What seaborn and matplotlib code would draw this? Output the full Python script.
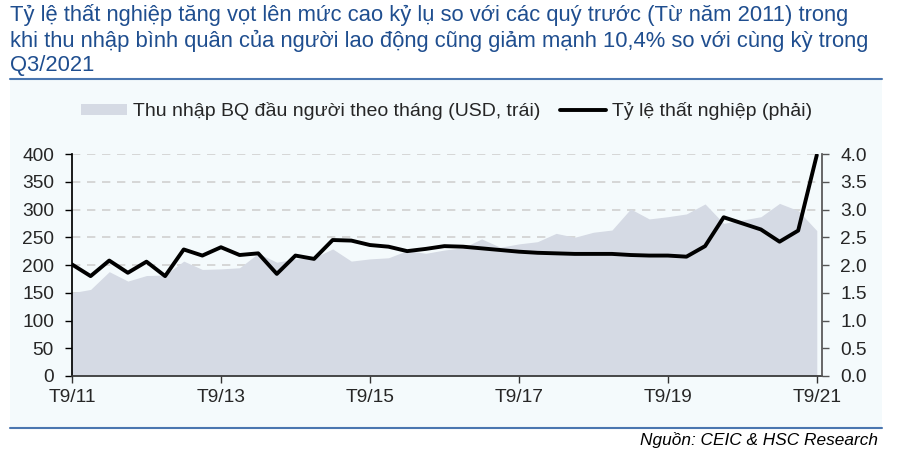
import numpy as np
import pandas as pd
import matplotlib
matplotlib.use("Agg")
import matplotlib.pyplot as plt
import seaborn as sns
from matplotlib.patches import Patch, Rectangle
from matplotlib.lines import Line2D

# ---- data ----
quarter_index = list(range(41))  # Q3/2011 .. Q3/2021
income_usd = [150, 156, 188, 171, 181, 182, 207, 192, 193, 195,
              221, 205, 211, 213, 229, 207, 211, 213, 226, 221,
              227, 231, 247, 232, 238, 242, 257, 250, 259, 263,
              301, 283, 287, 292, 310, 275, 281, 287, 311, 298, 262]
unemployment = [2.01, 1.80, 2.08, 1.86, 2.06, 1.80, 2.28, 2.17, 2.32, 2.18,
                2.21, 1.84, 2.17, 2.11, 2.45, 2.44, 2.36, 2.33, 2.25, 2.29,
                2.34, 2.33, 2.30, 2.27, 2.24, 2.22, 2.21, 2.20, 2.20, 2.20,
                2.18, 2.17, 2.17, 2.15, 2.34, 2.86, 2.75, 2.64, 2.42, 2.62, 3.98]
xtick_pos = [0, 8, 16, 24, 32, 40]
xtick_labels = ["T9/11", "T9/13", "T9/15", "T9/17", "T9/19", "T9/21"]
left_ticks = [0, 50, 100, 150, 200, 250, 300, 350, 400]
right_ticks = [0.0, 0.5, 1.0, 1.5, 2.0, 2.5, 3.0, 3.5, 4.0]

title = ("Tỷ lệ thất nghiệp tăng vọt lên mức cao kỷ lụ so với các quý trước (Từ năm 2011) trong\n"
         "khi thu nhập bình quân của người lao động cũng giảm mạnh 10,4% so với cùng kỳ trong\n"
         "Q3/2021")
legend_income = "Thu nhập BQ đầu người theo tháng (USD, trái)"
legend_unemp = "Tỷ lệ thất nghiệp (phải)"
source = "Nguồn: CEIC & HSC Research"

df = pd.DataFrame({"q": quarter_index, "income": income_usd, "unemp": unemployment})

sns.set_theme(style="white")
plt.rcParams["font.family"] = ["Liberation Sans", "DejaVu Sans"]

W, H = 904, 451
fig = plt.figure(figsize=(W / 100, H / 100), dpi=100)
fig.patch.set_facecolor("white")

panel_color = "#F4FAFC"
blue = "#1F4E8F"
area_color = "#D5DAE4"

# background panel and rules
fig.add_artist(Rectangle((10 / W, 1 - 427 / H), 872 / W, 347 / H,
                         transform=fig.transFigure, facecolor=panel_color,
                         edgecolor="none", zorder=-5))
fig.add_artist(Line2D([10 / W, 882 / W], [1 - 79 / H, 1 - 79 / H],
                      transform=fig.transFigure, color="#4A76B0", lw=1.5, zorder=5))
fig.add_artist(Line2D([10 / W, 882 / W], [1 - 428 / H, 1 - 428 / H],
                      transform=fig.transFigure, color="#4A76B0", lw=1.5, zorder=5))

fig.text(10 / W, 1 - 4 / H, title, ha="left", va="top", fontsize=15.8,
         color=blue, linespacing=1.2)
fig.text(878 / W, 1 - 440 / H, source, ha="right", va="center", fontsize=12.4,
         style="italic", color="black")

ax = fig.add_axes([72 / W, 1 - 376 / H, 750 / W, 222 / H])
ax.set_facecolor(panel_color)
ax.fill_between(df["q"], df["income"], 0, color=area_color, lw=0, zorder=2)
ax.set_ylim(0, 400)
ax.set_xlim(0, 40.28)
ax.set_yticks(left_ticks)
ax.set_xticks(xtick_pos)
ax.set_xticklabels(xtick_labels)
for v in left_ticks[1:]:
    ax.axhline(v, color="#D0D0D0", lw=1.2, ls=(0, (5, 4)), zorder=1)

ax2 = ax.twinx()
sns.lineplot(data=df, x="q", y="unemp", ax=ax2, color="black", lw=2.8, zorder=3)
ax2.set_ylim(0, 4.0)
ax2.set_xlim(0, 40.28)
ax2.set_yticks(right_ticks)
ax2.set_yticklabels([f"{v:.1f}" for v in right_ticks])
ax2.set_ylabel("")
ax.set_xlabel("")
ax.set_ylabel("")

for a in (ax, ax2):
    for s in a.spines.values():
        s.set_visible(False)
ax.spines["left"].set_visible(True)
ax.spines["left"].set_color("black")
ax.spines["bottom"].set_visible(True)
ax.spines["bottom"].set_color("#333333")
ax2.spines["right"].set_visible(True)
ax2.spines["right"].set_color("#555555")

ax.tick_params(axis="y", which="major", direction="out", length=5, width=1,
               color="black", labelsize=13.8, pad=8, left=True)
ax.tick_params(axis="x", which="major", direction="out", length=5, width=1,
               color="#333333", labelsize=13.8, pad=4, bottom=True)
ax2.tick_params(axis="y", which="major", direction="out", length=5, width=1,
                color="#555555", labelsize=13.8, pad=8, right=True)

handles = [Patch(facecolor=area_color, edgecolor="none"),
           Line2D([0], [0], color="black", lw=2.8)]
fig.legend(handles, [legend_income, legend_unemp], loc="center left",
           bbox_to_anchor=(63 / W, 1 - 111 / H), ncol=2, frameon=False,
           fontsize=14, handlelength=2.4, handleheight=0.5,
           handletextpad=0.3, columnspacing=1.0)

fig.savefig("out.png", dpi=100, facecolor="white")
